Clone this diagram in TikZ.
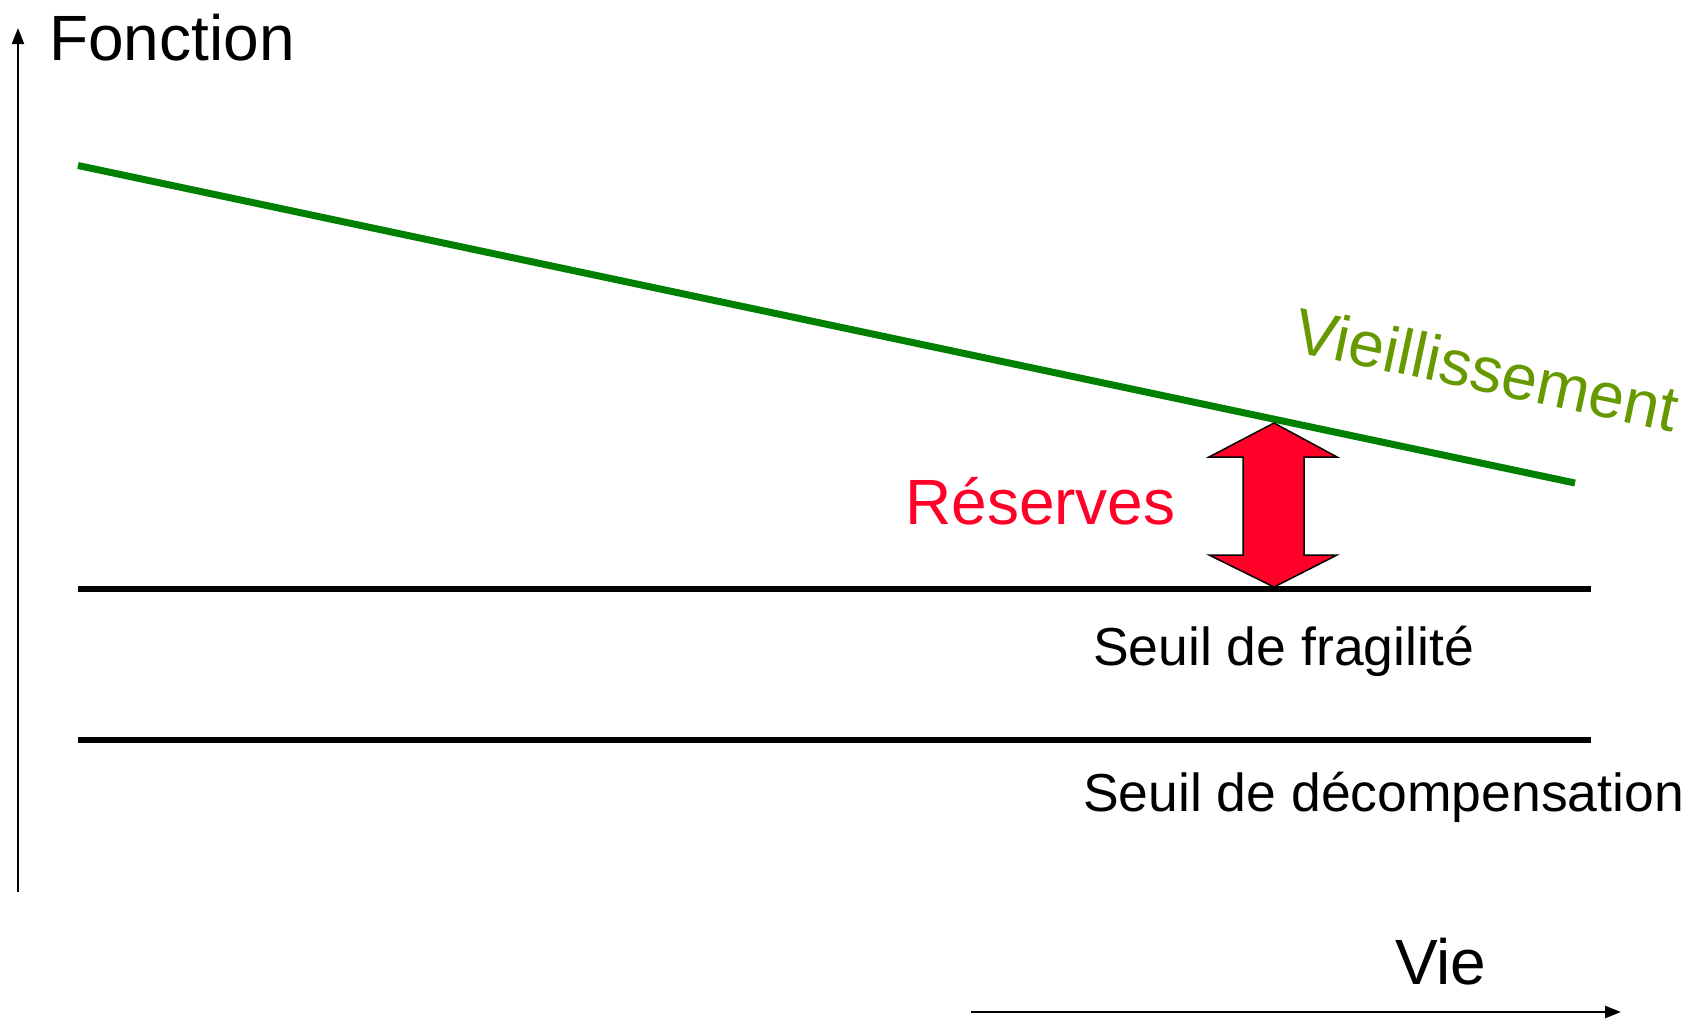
\documentclass[tikz,border=0pt]{standalone}
\usepackage{fontspec}
\setmainfont{Liberation Sans}
\usetikzlibrary{arrows.meta}
\definecolor{courbe}{RGB}{0,128,0}
\definecolor{vieillir}{RGB}{102,153,0}
\definecolor{rouge}{RGB}{255,0,40}
\tikzset{
    texte/.style={anchor=base west, inner sep=0pt, font=\fontsize{64}{64}\selectfont},
    seuil/.style={anchor=base west, inner sep=0pt, font=\fontsize{53.5}{53.5}\selectfont},
    axe/.style={-{Triangle[length=16pt,width=12pt]}}
}
\begin{document}
\begin{tikzpicture}[x=1pt,y=-1pt]
\useasboundingbox (0,0) rectangle (1686,1021);

% axes
\coordinate (ybas) at (18,892);
\coordinate (yhaut) at (18,28);
\draw[line width=2pt, axe] (ybas) -- (yhaut);
\coordinate (xgauche) at (971,1012);
\coordinate (xdroite) at (1621,1012);
\draw[line width=2.5pt, axe] (xgauche) -- (xdroite);

\node[texte] (fonction) at (49,60) {Fonction};
\node[texte] (vie) at (1395,984) {Vie};

% vieillissement
\coordinate (vdebut) at (78,165.5);
\coordinate (vfin) at (1575,483);
\draw[line width=7pt, courbe] (vdebut) -- (vfin);
\node[texte, rotate=-12, text=vieillir] (vieil) at (1291,351) {Vieillissement};

% seuils
\coordinate (fgauche) at (78,589);
\coordinate (fdroite) at (1591,589);
\draw[line width=6.5pt] (fgauche) -- (fdroite);
\node[seuil] (fragil) at (1093,665) {Seuil de fragilité};

\coordinate (dgauche) at (78,740);
\coordinate (ddroite) at (1591,740);
\draw[line width=6.5pt] (dgauche) -- (ddroite);
\node[seuil] (decomp) at (1083,811) {Seuil de décompensation};

% reserves
\draw[line width=1.5pt, fill=rouge, line join=miter]
    (1274,423) -- (1337,457) -- (1304,457) -- (1304,555) -- (1337,555)
    -- (1274,587) -- (1209,555) -- (1243,555) -- (1243,457) -- (1209,457) -- cycle;
\node[texte, text=rouge] (reserves) at (905,524) {Réserves};

\end{tikzpicture}
\end{document}
